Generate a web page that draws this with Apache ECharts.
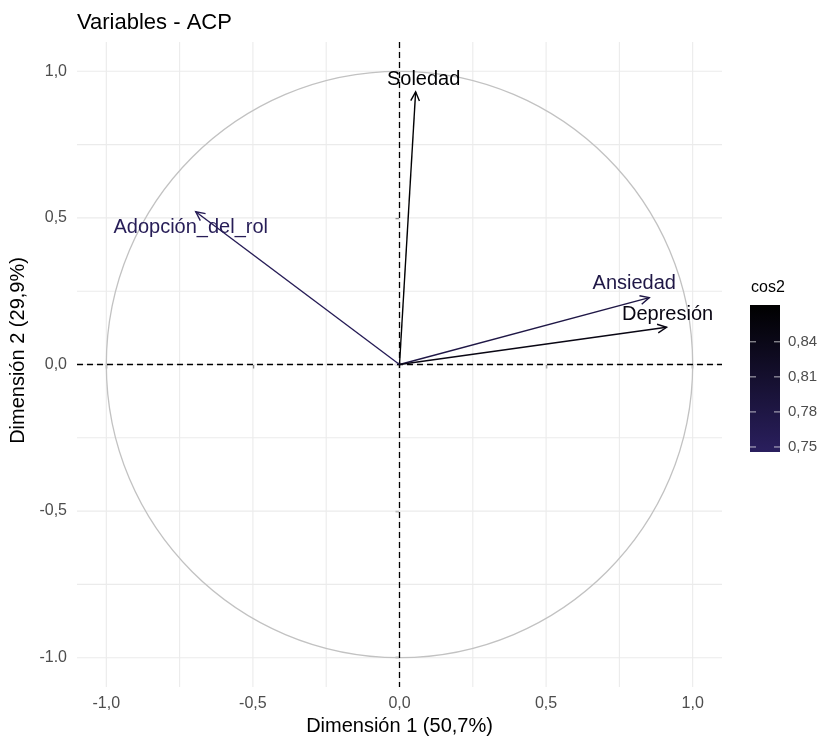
<!DOCTYPE html>
<html>
<head>
<meta charset="utf-8">
<script src="https://cdn.jsdelivr.net/npm/echarts@6/dist/echarts.min.js"></script>
<style>html,body{margin:0;padding:0;background:#fff;}#main{width:823px;height:736px;}</style>
</head>
<body>
<div id="main"></div>
<script>
// ---- data ----
const varNames = ['Soledad', 'Adopción_del_rol', 'Ansiedad', 'Depresión'];
const dim1 = [0.055, -0.695, 0.852, 0.911];
const dim2 = [0.930, 0.521, 0.228, 0.127];
const cos2 = [0.868, 0.755, 0.778, 0.846];
const axisTicks = [-1, -0.5, 0, 0.5, 1];
const xTickLabels = ['-1,0', '-0,5', '0,0', '0,5', '1,0'];
const yTickLabels = ['-1.0', '-0,5', '0,0', '0,5', '1,0'];
const gridValues = [-1, -0.75, -0.5, -0.25, 0, 0.25, 0.5, 0.75, 1];
const cos2Ticks = [0.75, 0.78, 0.81, 0.84];
const cos2Range = [0.7457, 0.8715];

// ---- style ----
const FONT = '"Liberation Sans", Arial, Helvetica, sans-serif';
const LOW = '#2a1f5e', HIGH = '#000000';
const labelOffsets = [[8, -12], [-5, 16], [-15, -14], [1, -13]];

const chart = echarts.init(document.getElementById('main'));

function tickLabel(arr) {
  return function (v) {
    const i = axisTicks.findIndex(t => Math.abs(t - v) < 1e-9);
    return i >= 0 ? arr[i] : '';
  };
}

const arrowData = varNames.map((n, i) => [dim1[i], dim2[i], cos2[i]]);

const option = {
  animation: false,
  backgroundColor: '#fff',
  textStyle: { fontFamily: FONT },
  title: {
    text: 'Variables - ACP', left: 72, top: 7,
    textStyle: { fontFamily: FONT, fontSize: 22, fontWeight: 'normal', color: '#000' }
  },
  grid: [
    { left: 77, top: 42, width: 645, height: 645, outerBoundsMode: 'none', containLabel: false },
    { left: 750, top: 305, width: 30, height: 147, outerBoundsMode: 'none', containLabel: false }
  ],
  xAxis: [
    {
      gridIndex: 0, type: 'value', min: -1.1, max: 1.1,
      name: 'Dimensión 1 (50,7%)', nameLocation: 'middle', nameGap: 20,
      nameTextStyle: { fontFamily: FONT, fontSize: 20, color: '#000', verticalAlign: 'top' },
      axisLine: { show: false },
      splitLine: { show: false },
      axisTick: { show: true, customValues: axisTicks, length: 4, lineStyle: { color: '#333', width: 1.3 } },
      axisLabel: { customValues: axisTicks, formatter: tickLabel(xTickLabels), margin: 9, fontSize: 16, color: '#4d4d4d', fontFamily: FONT }
    },
    { gridIndex: 1, type: 'value', min: 0, max: 1, show: false }
  ],
  yAxis: [
    {
      gridIndex: 0, type: 'value', min: -1.1, max: 1.1,
      name: 'Dimensión 2 (29,9%)', nameLocation: 'middle', nameGap: 43, nameRotate: 90,
      nameTextStyle: { fontFamily: FONT, fontSize: 20, color: '#000', padding: [0, 0, 0, 28] },
      axisLine: { show: false },
      splitLine: { show: false },
      axisTick: { show: true, customValues: axisTicks, length: 4, lineStyle: { color: '#333', width: 1.3 } },
      axisLabel: { customValues: axisTicks, formatter: tickLabel(yTickLabels), margin: 10, fontSize: 16, color: '#4d4d4d', fontFamily: FONT }
    },
    {
      gridIndex: 1, type: 'value', min: cos2Range[0], max: cos2Range[1], position: 'right',
      axisLine: { show: false }, splitLine: { show: false }, axisTick: { show: false },
      axisLabel: { customValues: cos2Ticks, formatter: v => v.toFixed(2).replace('.', ','), margin: 8, fontSize: 15, color: '#4d4d4d', fontFamily: FONT }
    }
  ],
  visualMap: {
    type: 'continuous', show: false, min: cos2Range[0], max: cos2Range[1],
    dimension: 2, seriesIndex: 3, inRange: { color: [LOW, HIGH] }
  },
  graphic: [
    { type: 'text', left: 751, top: 280, style: { text: 'cos2', font: '16px ' + FONT, fill: '#000' } }
  ],
  series: [
    { // grid lines
      type: 'custom', xAxisIndex: 0, yAxisIndex: 0, z: 1, silent: true,
      data: gridValues.map(v => [v]),
      renderItem(params, api) {
        const cs = params.coordSys;
        const v = api.value(0);
        const px = api.coord([v, 0])[0];
        const py = api.coord([0, v])[1];
        const st = { stroke: '#ebebeb', lineWidth: 1.1 };
        return { type: 'group', children: [
          { type: 'line', shape: { x1: px, y1: cs.y, x2: px, y2: cs.y + cs.height }, style: st },
          { type: 'line', shape: { x1: cs.x, y1: py, x2: cs.x + cs.width, y2: py }, style: st }
        ] };
      }
    },
    { // unit circle
      type: 'custom', xAxisIndex: 0, yAxisIndex: 0, z: 2, silent: true,
      data: [[0, 0]],
      renderItem(params, api) {
        const c = api.coord([0, 0]);
        const r = api.size([1, 1]);
        return { type: 'ellipse', shape: { cx: c[0], cy: c[1], rx: r[0], ry: r[1] },
          style: { stroke: '#c2c2c2', fill: null, lineWidth: 1.3 } };
      }
    },
    { // dashed zero lines
      type: 'custom', xAxisIndex: 0, yAxisIndex: 0, z: 3, silent: true,
      data: [[0, 0]],
      renderItem(params, api) {
        const cs = params.coordSys;
        const c = api.coord([0, 0]);
        const st = { stroke: '#000', lineWidth: 1.3, lineDash: [6, 4] };
        return { type: 'group', children: [
          { type: 'line', shape: { x1: c[0], y1: cs.y, x2: c[0], y2: cs.y + cs.height }, style: st },
          { type: 'line', shape: { x1: cs.x, y1: c[1], x2: cs.x + cs.width, y2: c[1] }, style: st }
        ] };
      }
    },
    { // arrows
      type: 'custom', xAxisIndex: 0, yAxisIndex: 0, z: 4,
      data: arrowData,
      renderItem(params, api) {
        const o = api.coord([0, 0]);
        const p = api.coord([api.value(0), api.value(1)]);
        const color = api.visual('color');
        const ang = Math.atan2(p[1] - o[1], p[0] - o[0]);
        const L = 10, A = Math.PI / 7;
        const h1 = [p[0] - L * Math.cos(ang - A), p[1] - L * Math.sin(ang - A)];
        const h2 = [p[0] - L * Math.cos(ang + A), p[1] - L * Math.sin(ang + A)];
        const off = labelOffsets[params.dataIndex];
        return { type: 'group', children: [
          { type: 'line', shape: { x1: o[0], y1: o[1], x2: p[0], y2: p[1] }, style: { stroke: color, lineWidth: 1.4 } },
          { type: 'polyline', shape: { points: [h1, p, h2] }, style: { stroke: color, fill: null, lineWidth: 1.4 } },
          { type: 'text', x: p[0] + off[0], y: p[1] + off[1],
            style: { text: varNames[params.dataIndex], fill: color, font: '20px ' + FONT, align: 'center', verticalAlign: 'middle' } }
        ] };
      }
    },
    { // colour bar
      type: 'custom', xAxisIndex: 1, yAxisIndex: 1, z: 2, silent: true,
      data: [[0, cos2Range[1]]],
      renderItem(params, api) {
        const cs = params.coordSys;
        const children = [{
          type: 'rect', shape: { x: cs.x, y: cs.y, width: cs.width, height: cs.height },
          style: { fill: new echarts.graphic.LinearGradient(0, 0, 0, 1, [
            { offset: 0, color: HIGH }, { offset: 1, color: LOW }]) }
        }];
        cos2Ticks.forEach(t => {
          const y = api.coord([0, t])[1];
          const st = { stroke: '#ffffff', lineWidth: 1, opacity: 0.7 };
          children.push({ type: 'line', shape: { x1: cs.x, y1: y, x2: cs.x + 6, y2: y }, style: st });
          children.push({ type: 'line', shape: { x1: cs.x + cs.width - 6, y1: y, x2: cs.x + cs.width, y2: y }, style: st });
        });
        return { type: 'group', children };
      }
    }
  ]
};
chart.setOption(option);
</script>
</body>
</html>
